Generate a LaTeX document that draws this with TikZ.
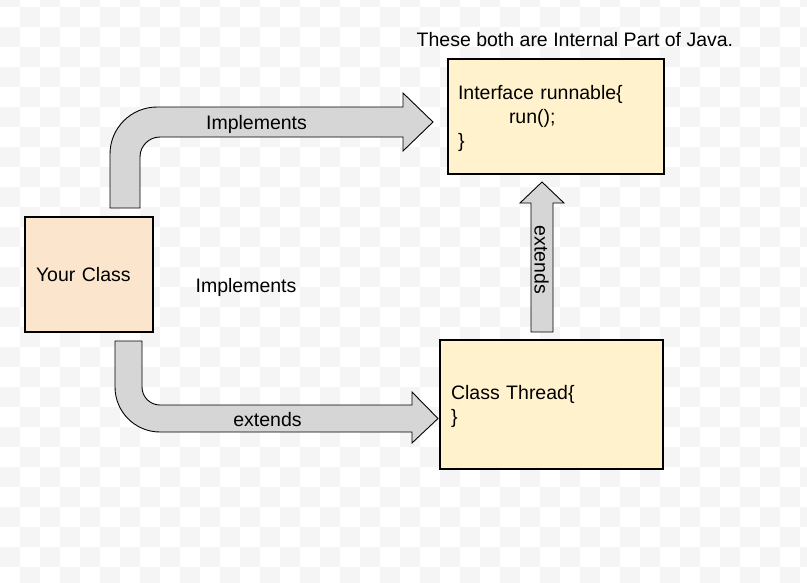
\documentclass[tikz,border=0pt]{standalone}
\usepackage{fontspec}
\setmainfont{Liberation Sans}
\definecolor{chk}{HTML}{F5F5F5}
\definecolor{peach}{HTML}{FCE5CD}
\definecolor{cream}{HTML}{FFF2CC}
\definecolor{arrowgray}{HTML}{D6D6D6}
\newcommand{\boxlines}[1]{\raisebox{-2.5pt}[\height][\depth]{\begin{tabular}{@{}l@{}}#1\end{tabular}}}
\tikzset{
  txt/.style={font=\fontsize{19.5}{24}\selectfont, text=black},
  box/.style={draw=black, line width=1.1pt, rectangle, txt, align=left},
  blockarrow/.style={fill=arrowgray, draw=black, line width=0.9pt, line join=miter},
}
\begin{document}
\begin{tikzpicture}[x=1pt,y=-1pt]
\useasboundingbox (0,0) rectangle (807,582);
% checkerboard background
\begin{scope}
\clip (0,0) rectangle (807,582);
\fill[white] (0,0) rectangle (807,582);
\foreach \i in {0,...,40}{
  \foreach \j in {0,...,29}{
    \pgfmathtruncatemacro\chkpar{mod(\i+\j,2)}
    \ifnum\chkpar=0 \fill[chk] (20*\i,20*\j-13) rectangle ++(20,20);\fi
  }
}
\end{scope}

% boxes
\node[box, fill=peach, minimum width=128pt, minimum height=115pt, text width=106pt, inner xsep=11pt]
  (yours) at (89,274.5) {\boxlines{Your Class}};
\node[box, fill=cream, minimum width=216pt, minimum height=115pt, text width=196pt, inner xsep=10pt]
  (iface) at (556,116.5) {\boxlines{Interface runnable\{\\\hspace*{51pt}run();\\\}}};
\node[box, fill=cream, minimum width=223pt, minimum height=129pt, text width=201pt, inner xsep=11pt]
  (thread) at (551.5,404.5) {\boxlines{Class Thread\{\\\}}};

% title
\node[txt, anchor=west, inner sep=0pt] (title) at (416.5,39.5) {These both are Internal Part of Java.};

% top bent arrow (implements)
\draw[blockarrow] (110,208) -- (110,154) .. controls (110,128.04) and (131.04,107) .. (157,107)
  -- (403,107) -- (403,93) -- (433,122) -- (403,151) -- (403,137) -- (160,137)
  .. controls (148.95,137) and (140,145.95) .. (140,157) -- (140,208) -- cycle;
\node[txt, inner sep=0pt] (implA) at (256.5,124) {Implements};

% bottom bent arrow (extends)
\draw[blockarrow] (115,341) -- (115,387) .. controls (115,411.85) and (135.15,432) .. (160,432)
  -- (412,432) -- (412,443) -- (438,418.5) -- (412,392) -- (412,405) -- (160,405)
  .. controls (150.06,405) and (142,396.94) .. (142,387) -- (142,341) -- cycle;
\node[txt, inner sep=0pt] (extA) at (267.5,419.5) {extends};

% vertical arrow (extends)
\draw[blockarrow] (531,332) -- (531,203) -- (520,203) -- (542,182) -- (564,203) -- (553,203) -- (553,332) -- cycle;
\node[txt, inner sep=0pt, rotate=-90] (extB) at (541.5,260) {extends};

% free label
\node[txt, inner sep=0pt] (implB) at (246,287) {Implements};
\end{tikzpicture}
\end{document}
